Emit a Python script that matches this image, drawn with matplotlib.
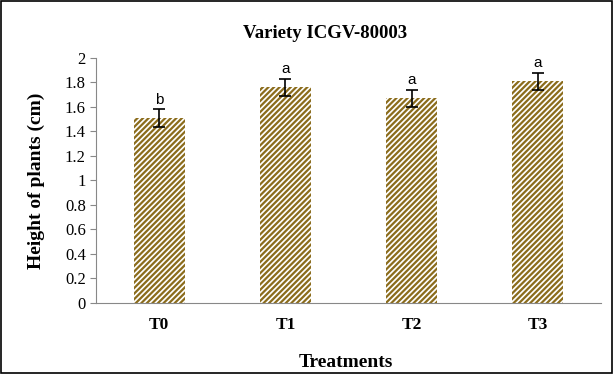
import matplotlib
matplotlib.use("Agg")
import matplotlib.pyplot as plt
import numpy as np

treatments = ["T0", "T1", "T2", "T3"]
heights = [1.51, 1.76, 1.67, 1.81]
errors = [0.07, 0.07, 0.07, 0.07]
letters = ["b", "a", "a", "a"]

plt.rcParams["hatch.linewidth"] = 1.6
plt.rcParams["hatch.color"] = "#8b6c1c"

fig = plt.figure(figsize=(6.13, 3.74), dpi=100)
ax = fig.add_axes([0.157, 0.19, 0.823, 0.655])

x = np.arange(len(treatments))
ax.bar(x, heights, width=0.4, color="white", edgecolor="#8b6c1c", linewidth=0,
       hatch="//////")
ax.errorbar(x, heights, yerr=errors, fmt="none", ecolor="black", elinewidth=1.2,
            capsize=4, capthick=1.2)
for xi, h, e, l in zip(x, heights, errors, letters):
    ax.text(xi, h + e + 0.02, l, ha="center", va="bottom", fontsize=11,
            family="Liberation Sans")

ax.set_xlim(-0.5, 3.5)
ax.set_ylim(0, 2)
ax.set_yticks(np.arange(0, 2.01, 0.2))
ax.set_yticklabels(["0", "0.2", "0.4", "0.6", "0.8", "1", "1.2", "1.4", "1.6", "1.8", "2"],
                   family="Liberation Serif", fontsize=12)
ax.set_xticks(x)
ax.set_xticklabels(treatments, family="Liberation Serif", fontsize=12.5, fontweight="bold")
ax.tick_params(axis="x", length=0, pad=10)
ax.tick_params(axis="y", length=4, color="#888888", direction="out")
for s in ["top", "right"]:
    ax.spines[s].set_visible(False)
ax.spines["left"].set_color("#888888")
ax.spines["bottom"].set_color("#888888")

ax.set_ylabel("Height of plants (cm)", family="Liberation Serif", fontsize=14,
              fontweight="bold", labelpad=14)
fig.text(0.565, 0.032, "Treatments", ha="center", va="center",
         family="Liberation Serif", fontsize=14, fontweight="bold")
fig.text(0.53, 0.91, "Variety ICGV-80003", ha="center", va="center",
         family="Liberation Serif", fontsize=13.5, fontweight="bold")

border = plt.Rectangle((0.002, 0.003), 0.996, 0.994, transform=fig.transFigure,
                       fill=False, edgecolor="black", linewidth=1.2)
fig.patches.append(border)

fig.savefig("out.png", dpi=100)
